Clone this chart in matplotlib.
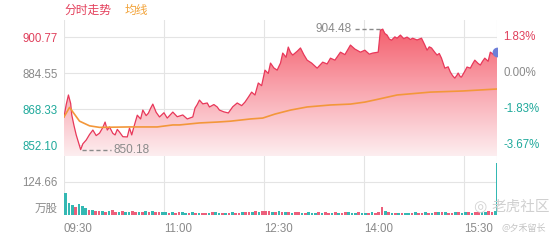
import numpy as np
import matplotlib.pyplot as plt
from matplotlib.colors import LinearSegmentedColormap

plt.rcParams['font.family'] = ['Liberation Sans', 'Noto Sans CJK SC', 'DejaVu Sans']

# minutes since 09:30 and price
minutes = [0, 2, 4, 6, 7, 9, 11, 13, 15, 17, 20, 23, 26, 29, 32, 35, 37, 39, 41, 44, 46, 48, 50,
           53, 57, 59, 61, 63, 66, 69, 71, 74, 76, 78, 80, 83, 86, 90, 93, 96, 98, 102, 107, 111,
           116, 118, 120, 122, 125, 129, 131, 135, 138, 140, 144, 148, 152, 156, 160, 163, 166,
           169, 172, 175, 178, 181, 184, 186, 189, 192, 195, 197, 200, 202, 204, 206, 210, 213,
           216, 219, 223, 226, 228, 231, 233, 237, 240, 244, 249, 253, 258, 262, 267, 271, 275,
           278, 283, 285, 287, 289, 291, 293, 295, 298, 300, 303, 306, 309, 312, 314, 318, 322,
           325, 327, 329, 331, 334, 336, 338, 340, 343, 346, 348, 350, 352, 354, 355, 357, 358,
           361, 363, 366, 368, 370, 373, 375, 377, 379, 382, 384, 387, 390]
price = [864.9, 870.5, 874.8, 871.0, 865.8, 861.0, 856.8, 853.5, 850.18, 852.8, 854.5, 857.0,
         859.0, 856.5, 857.6, 860.2, 862.6, 859.0, 860.4, 857.5, 856.8, 859.3, 858.1, 856.0,
         855.9, 859.9, 856.8, 860.5, 865.7, 864.0, 868.0, 865.5, 866.6, 868.8, 870.7, 867.0,
         864.9, 866.8, 864.4, 866.0, 867.1, 865.0, 865.8, 864.0, 864.9, 868.9, 870.5, 872.5,
         870.8, 871.2, 869.4, 870.5, 869.4, 868.0, 867.2, 866.7, 869.5, 871.2, 870.0, 871.6,
         873.8, 876.1, 874.8, 880.2, 879.0, 886.0, 884.5, 889.2, 887.0, 886.0, 889.2, 893.7,
         891.8, 896.4, 894.0, 892.8, 894.5, 896.0, 893.0, 890.5, 889.2, 887.8, 886.9, 888.5,
         889.6, 888.8, 891.4, 890.5, 894.1, 893.0, 897.3, 895.5, 894.1, 895.0, 893.2, 893.7,
         894.1, 904.0, 904.48, 902.5, 901.8, 900.0, 899.5, 901.0, 900.4, 901.8, 900.2, 900.9,
         899.8, 900.4, 899.6, 900.4, 897.3, 895.0, 896.5, 896.0, 894.0, 892.8, 893.5, 891.4,
         886.9, 887.5, 885.1, 883.5, 882.4, 883.8, 884.7, 883.0, 882.9, 885.5, 887.4, 886.9,
         888.8, 890.5, 889.0, 888.3, 890.0, 891.4, 890.0, 894.1, 893.0, 894.1]

avg_minutes = [0, 5, 14, 23, 32, 59, 84, 98, 104, 122, 138, 150, 168, 179, 190, 204, 219,
               240, 258, 271, 283, 300, 330, 359, 390]
avg_price = [864.9, 869.2, 863.0, 860.9, 860.2, 860.4, 860.4, 861.3, 861.3, 862.2, 862.6,
             863.0, 864.0, 864.4, 866.2, 868.0, 869.4, 870.3, 870.7, 871.6, 872.9, 874.8,
             876.1, 876.6, 877.5]

# volume (万股) in 3-minute buckets, r = up, g = down
vol = [83, 45, 38, 30, 42, 35, 25, 20, 18, 15,
       14, 16, 12, 15, 18, 13, 12, 14, 11, 12, 15, 13, 10, 12, 14, 11, 16, 12, 10, 11,
       10, 9, 11, 8, 10, 12, 9, 8, 10, 9, 8, 7, 9, 8, 10, 11, 9, 8, 7, 9, 10, 8, 9, 11, 13,
       10, 12, 14, 12, 15,
       16, 14, 13, 12, 15, 11, 10, 12, 9, 10, 11, 9, 8, 10, 9, 8, 11, 9, 10, 8, 9, 10, 8, 9,
       12, 10, 9, 8, 10, 9,
       8, 9, 10, 9, 11, 30, 14, 10, 9, 8, 9, 8, 7, 8, 9, 10, 8, 9, 10, 8,
       9, 10, 11, 12, 10, 9, 8, 10, 11, 9, 12, 10, 9, 11, 13, 12, 10, 14, 12, 15]
vol_dir = ('gggrgggrgr' 'rgrgrrgrggrrgrgrgrrg' 'grgrrggrgrgrrgrggrgrgrrgrrgrgr'
           'rrgrgrgrgrrgrgggrgrrgrgrrgggrg' 'grgrrrgrgrgrggrgrrgr' 'grgrgrrgrggrgrrggrrg')
close_vol = 196

prev_close = 884.55
left_ticks = [852.10, 868.33, 884.55, 900.77]
right_ticks = ['-3.67%', '-1.83%', '0.00%', '1.83%']
tick_colors = ['#1fa99b', '#1fa99b', '#8a8a8a', '#e0405c']
time_pos = [0, 90, 180, 270, 360]
time_labels = ['09:30', '11:00', '12:30', '14:00', '15:30']

grid_c = '#e4e4e4'
red = '#e8385a'
grey = '#8a8a8a'

fig = plt.figure(figsize=(5.6, 2.4), dpi=100)
ax = fig.add_axes([64/560, 1-156/240, 433/560, 136/240])
vax = fig.add_axes([64/560, 1-215/240, 433/560, 59/240])

for a in (ax, vax):
    a.set_xlim(0, 390)
    for s in a.spines.values():
        s.set_visible(False)
    a.tick_params(length=0)
    for t in [0, 90, 180, 270, 360, 390]:
        a.axvline(t, color=grid_c, lw=0.8, zorder=0)

ax.set_ylim(847.3, 908.6)
ax.set_xticks([])
ax.set_yticks(left_ticks)
ax.set_yticklabels(['%.2f' % v for v in left_ticks], fontsize=8.3)
for lab, c in zip(ax.get_yticklabels(), tick_colors):
    lab.set_color(c)
ax.tick_params(axis='y', pad=4.5)
for v in left_ticks:
    ax.axhline(v, color=grid_c, lw=0.8, zorder=0)
for v, lab, c in zip(left_ticks, right_ticks, tick_colors):
    ax.annotate(lab, (1, v), xycoords=('axes fraction', 'data'), xytext=(4.5, 0),
                textcoords='offset points', va='center', ha='left', fontsize=8.3, color=c)

# gradient fill under the price line
cmap = LinearSegmentedColormap.from_list('fill', ['#fdeef0', '#f9a7b0', '#f45c6a'])
grad = np.linspace(0, 1, 256).reshape(-1, 1)
poly = ax.fill_between(minutes, price, 847.3, color='none', lw=0)
img = ax.imshow(grad, cmap=cmap, aspect='auto', origin='lower',
                extent=[0, 390, 847.3, 906], zorder=1)
img.set_clip_path(poly.get_paths()[0], transform=ax.transData)
ax.set_ylim(847.3, 908.6)

ax.plot(minutes, price, color=red, lw=0.9, zorder=3)
ax.plot(avg_minutes, avg_price, color='#f3973a', lw=1.2, zorder=4)
ax.plot([minutes[-1]], [price[-1]], 'o', color='#6e7fd8', ms=6, zorder=5)

# high / low markers
hi_i = int(np.argmax(price))
lo_i = int(np.argmin(price))
ax.plot([minutes[hi_i] - 25, minutes[hi_i]], [price[hi_i]] * 2, ls=(0, (3, 2)), color=grey, lw=1)
ax.text(minutes[hi_i] - 28, price[hi_i], '%.2f' % price[hi_i], ha='right', va='center',
        fontsize=8.5, color=grey)
ax.plot([minutes[lo_i] + 1, minutes[lo_i] + 27], [price[lo_i]] * 2, ls=(0, (3, 2)), color=grey, lw=1)
ax.text(minutes[lo_i] + 30, price[lo_i], '%.2f' % price[lo_i], ha='left', va='center',
        fontsize=8.5, color=grey)

# volume
vmax = 124.66
vax.set_ylim(0, vmax * 59 / 33)
vax.axhline(vmax, color=grid_c, lw=0.8, zorder=0)
vx = np.arange(len(vol)) * 3 + 1.5
vcol = ['#ec5f7b' if d == 'r' else '#34b8b3' for d in vol_dir]
vax.bar(vx, vol, width=2.4, color=vcol, lw=0, zorder=2)
vax.bar([389.5], [close_vol], width=1.2, color='#34b8b3', lw=0, zorder=2)
vax.set_yticks([vmax])
vax.set_yticklabels(['124.66'], fontsize=8.3, color=grey)
vax.tick_params(axis='y', pad=4.5)
vax.set_xticks(time_pos)
vax.set_xticklabels(time_labels, fontsize=8.3, color=grey, ha='left')
vax.tick_params(axis='x', pad=6)
vax.annotate('万股', (0, 0), xycoords='axes fraction', xytext=(-4.5, 5),
             textcoords='offset points', ha='right', va='center', fontsize=8.3, color=grey,
             family=['Noto Sans CJK SC'])

fig.text(64/560, 1-10/240, '分时走势', color='#e4405c', fontsize=8.5, va='center',
         family=['Noto Sans CJK SC'])
fig.text(125/560, 1-10/240, '均线', color='#f2a33a', fontsize=8.5, va='center',
         family=['Noto Sans CJK SC'])

# watermark
fig.text(480/560, 1-207/240, '◎', color='#d4d4d4', fontsize=11, ha='center', va='center',
         family=['DejaVu Sans'])
fig.text(492/560, 1-207/240, '老虎社区', color='#d0d0d0', fontsize=10.5, va='center',
         family=['Noto Sans CJK SC'])
fig.text(501/560, 1-229/240, '@夕禾留长', color='#c4c4c4', fontsize=6.5, va='center',
         family=['Noto Sans CJK SC'])

fig.savefig('out.png', dpi=100)
